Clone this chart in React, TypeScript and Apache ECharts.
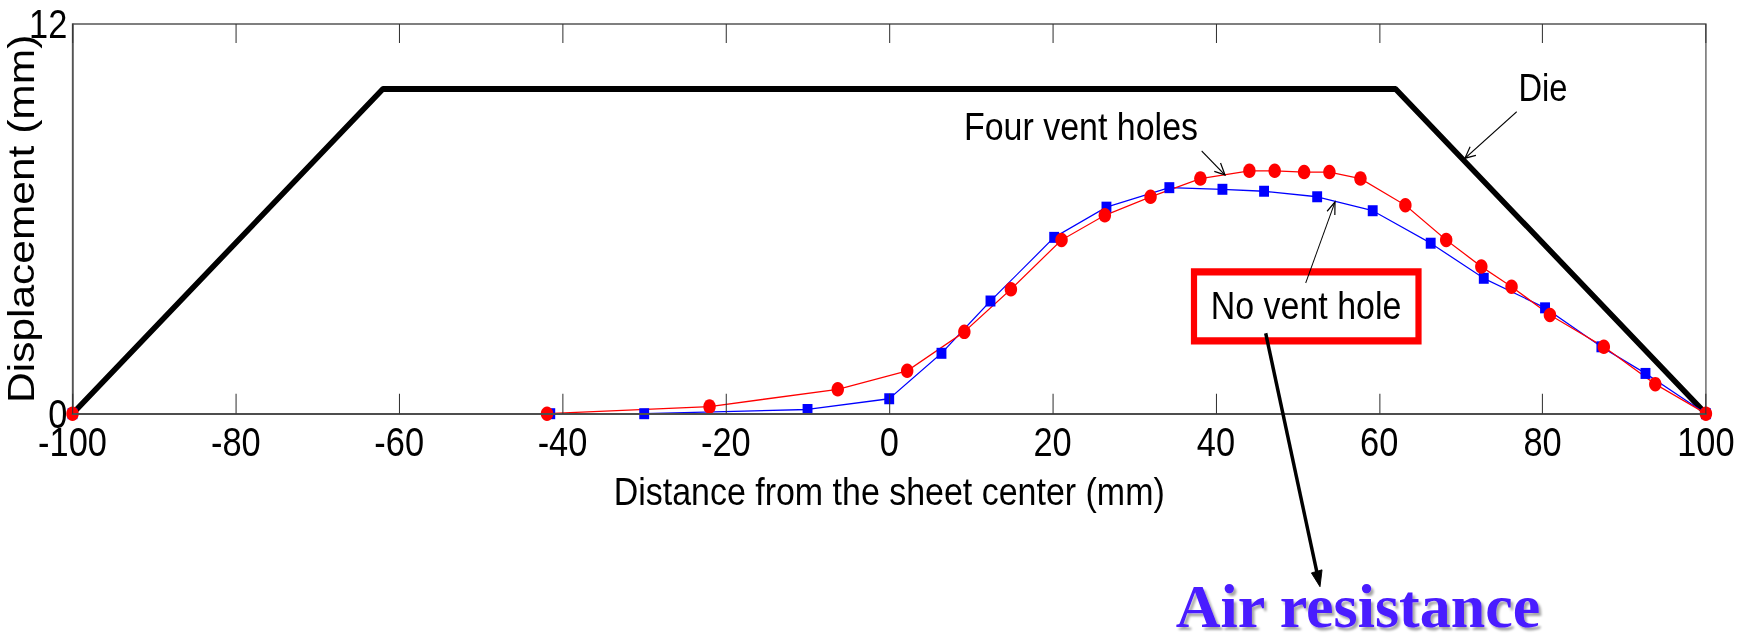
import React, { useEffect, useRef } from "react";
import * as echarts from "echarts";

// ---- data ----
const xMin = -100;
const xMax = 100;
const xStep = 20;
const yMin = 0;
const yMax = 12;

const dieX = [-100, -62, 62, 100];
const dieY = [0, 10, 10, 0];

const fourVentX = [-100, -41.9, -22.0, -6.3, 2.2, 9.2, 14.9, 21.1, 26.4, 32.0, 38.1, 44.1, 47.2, 50.8, 53.9, 57.7, 63.2, 68.2, 72.5, 76.2, 80.9, 87.5, 93.8, 100];
const fourVentY = [0, 0, 0.22, 0.75, 1.32, 2.52, 3.83, 5.35, 6.11, 6.68, 7.24, 7.48, 7.48, 7.44, 7.44, 7.24, 6.42, 5.35, 4.53, 3.91, 3.04, 2.06, 0.91, 0];

const noVentX = [-100, -41.5, -30.0, -10.0, 0.0, 6.4, 12.4, 20.2, 26.6, 34.3, 40.8, 45.9, 52.4, 59.2, 66.3, 72.8, 80.3, 87.2, 92.6, 100];
const noVentY = [0, 0, 0, 0.13, 0.46, 1.86, 3.47, 5.43, 6.36, 6.96, 6.91, 6.85, 6.68, 6.25, 5.25, 4.17, 3.26, 2.06, 1.24, 0];

const xAxisTitle = "Distance from the sheet center (mm)";
const yAxisTitle = "Displacement (mm)";
const labelFourVent = "Four vent holes";
const labelNoVent = "No vent hole";
const labelDie = "Die";
const labelAir = "Air resistance";

const SANS = "'Liberation Sans', Arial, Helvetica, sans-serif";
const SERIF = "'Liberation Serif', 'Times New Roman', serif";

// The original figure is horizontally squeezed; render wider and squeeze with CSS.
const K = 0.86;
const OUT_W = 1739;
const OUT_H = 635;
const W = OUT_W / K;
const X = (px: number) => px / K;

const zip = (xs: number[], ys: number[]) => xs.map((x, i) => [x, ys[i]]);

function arrow(x1: number, y1: number, x2: number, y2: number, width: number, headLen: number, headAngle: number, filled: boolean) {
  const dx = x2 - x1;
  const dy = y2 - y1;
  const L = Math.sqrt(dx * dx + dy * dy);
  const ux = dx / L;
  const uy = dy / L;
  const a = (headAngle * Math.PI) / 180;
  const rot = (ang: number) => {
    const bx = -ux;
    const by = -uy;
    return [
      x2 + headLen * (bx * Math.cos(ang) - by * Math.sin(ang)),
      y2 + headLen * (bx * Math.sin(ang) + by * Math.cos(ang)),
    ];
  };
  const w1 = rot(a);
  const w2 = rot(-a);
  const els: any[] = [
    {
      type: "line",
      shape: { x1, y1, x2: filled ? x2 - ux * headLen * 0.8 : x2, y2: filled ? y2 - uy * headLen * 0.8 : y2 },
      style: { stroke: "#000", lineWidth: width },
      z: 100,
    },
  ];
  if (filled) {
    els.push({
      type: "polygon",
      shape: { points: [w1, [x2, y2], w2] },
      style: { fill: "#000", stroke: "#000", lineWidth: 1 },
      z: 100,
    });
  } else {
    els.push({
      type: "polyline",
      shape: { points: [w1, [x2, y2], w2] },
      style: { stroke: "#000", lineWidth: width + 0.3, fill: null },
      z: 100,
    });
  }
  return els;
}

export default function App() {
  const ref = useRef<HTMLDivElement>(null);

  useEffect(() => {
    if (!ref.current) return;
    const chart = echarts.init(ref.current, null, { renderer: "svg" });

    const graphic: any[] = [
      {
        type: "rect",
        shape: { x: X(1194), y: 271.9, width: X(224.5), height: 69 },
        style: { fill: "transparent", stroke: "#ff0000", lineWidth: 7.2 },
        z: 90,
      },
      {
        type: "text",
        x: X(1306),
        y: 305.5,
        style: { text: labelNoVent, fontSize: 39.5, fontFamily: SANS, fill: "#000", align: "center", verticalAlign: "middle" },
        z: 100,
      },
      {
        type: "text",
        x: X(1081),
        y: 127,
        style: { text: labelFourVent, fontSize: 39.5, fontFamily: SANS, fill: "#000", align: "center", verticalAlign: "middle" },
        z: 100,
      },
      {
        type: "text",
        x: X(1543),
        y: 88,
        style: { text: labelDie, fontSize: 38, fontFamily: SANS, fill: "#000", align: "center", verticalAlign: "middle" },
        z: 100,
      },
      {
        type: "text",
        x: X(1358),
        y: 606,
        scaleX: 1 / K,
        style: {
          text: labelAir,
          fontSize: 62,
          fontWeight: "bold",
          fontFamily: SERIF,
          fill: "#4a1aff",
          align: "center",
          verticalAlign: "middle",
          textShadowColor: "rgba(0,0,0,0.35)",
          textShadowBlur: 2,
          textShadowOffsetX: 3,
          textShadowOffsetY: 3,
        },
        z: 100,
      },
      ...arrow(X(1201.7), 151, X(1225), 175, 1.1, 13, 25, false),
      ...arrow(X(1516.7), 111.7, X(1465), 158.3, 1.1, 13, 25, false),
      ...arrow(X(1305.7), 283, X(1335), 202, 1.1, 13, 22, false),
      ...arrow(X(1265.7), 333.3, X(1320), 586.7, 4, 17, 22, true),
    ];

    chart.setOption({
      animation: false,
      backgroundColor: "#ffffff",
      grid: {
        left: X(72.5),
        right: W - X(1706),
        top: 24,
        bottom: OUT_H - 413.7,
        show: true,
        borderColor: "#555",
        borderWidth: 1.5,
        backgroundColor: "transparent",
        containLabel: false,
        outerBoundsMode: "none",
      },
      xAxis: [
        {
          type: "value",
          min: xMin,
          max: xMax,
          interval: xStep,
          position: "bottom",
          z: 5,
          axisLine: { show: true, onZero: false, lineStyle: { color: "#4d4d4d", width: 2.2 } },
          axisTick: { show: true, inside: true, length: 20, lineStyle: { color: "#333", width: 1.2 } },
          axisLabel: { fontSize: 40, fontFamily: SANS, color: "#000", margin: 8 },
          splitLine: { show: false },
          name: xAxisTitle,
          nameLocation: "middle",
          nameGap: 58,
          nameMoveOverlap: false,
          nameTextStyle: { fontSize: 39.5, fontFamily: SANS, color: "#000" },
        },
        {
          type: "value",
          min: xMin,
          max: xMax,
          interval: xStep,
          position: "top",
          axisLine: { show: false, onZero: false },
          axisTick: { show: true, inside: true, length: 19, lineStyle: { color: "#333", width: 1.2 } },
          axisLabel: { show: false },
          splitLine: { show: false },
        },
      ],
      yAxis: {
        type: "value",
        min: yMin,
        max: yMax,
        interval: yMax - yMin,
        axisLine: { show: true, onZero: false, lineStyle: { color: "#555", width: 1.5 } },
        axisTick: { show: false },
        splitLine: { show: false },
        axisLabel: { fontSize: 40, fontFamily: SANS, color: "#000", margin: 6 },
        name: yAxisTitle,
        nameLocation: "middle",
        nameGap: 38,
        nameMoveOverlap: false,
        nameTextStyle: { fontSize: 42.5, fontFamily: SANS, color: "#000" },
      },
      series: [
        {
          name: labelDie,
          type: "line",
          data: zip(dieX, dieY),
          symbol: "none",
          lineStyle: { color: "#000", width: 6 },
          z: 1,
        },
        {
          name: labelNoVent,
          type: "line",
          data: zip(noVentX, noVentY),
          symbol: "rect",
          symbolSize: [11.5, 11],
          itemStyle: { color: "#0000ff" },
          lineStyle: { color: "#0000ff", width: 1.3 },
          z: 1,
        },
        {
          name: labelFourVent,
          type: "line",
          data: zip(fourVentX, fourVentY),
          symbol: "circle",
          symbolSize: 14.5,
          itemStyle: { color: "#ff0000" },
          lineStyle: { color: "#ff0000", width: 1.3 },
          z: 1,
        },
      ],
      graphic,
    });

    return () => {
      chart.dispose();
    };
  }, []);

  return (
    <div style={{ position: "absolute", left: 0, top: 0, width: OUT_W, height: OUT_H, overflow: "hidden", background: "#fff" }}>
      <div
        ref={ref}
        style={{ width: W, height: OUT_H, transform: `scaleX(${K})`, transformOrigin: "0 0" }}
      />
    </div>
  );
}
